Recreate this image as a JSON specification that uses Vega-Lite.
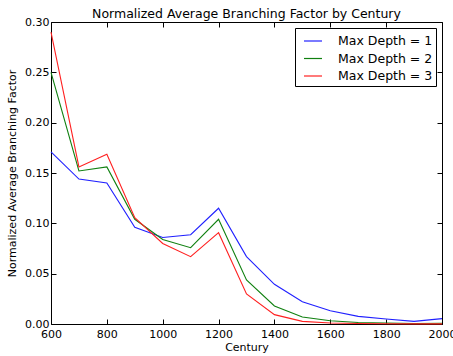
{
  "$schema": "https://vega.github.io/schema/vega-lite/v6.json",
  "width": 391,
  "height": 302,
  "autosize": "none",
  "padding": {"left": 51, "top": 22, "right": 11, "bottom": 32},
  "background": "white",
  "title": {
    "text": "Normalized Average Branching Factor by Century",
    "font": "DejaVu Sans",
    "fontSize": 12.5,
    "fontWeight": "normal",
    "color": "black",
    "anchor": "middle",
    "frame": "group",
    "offset": -4
  },
  "config": {
    "view": {"stroke": "black", "strokeWidth": 1},
    "axis": {
      "labelFont": "DejaVu Sans",
      "labelFontSize": 11,
      "labelColor": "black",
      "labelFlush": false,
      "titleFont": "DejaVu Sans",
      "titleFontSize": 11,
      "titleFontWeight": "normal",
      "titleColor": "black",
      "grid": false,
      "domain": false,
      "tickColor": "black",
      "tickSize": -5,
      "labelPadding": 9
    }
  },
  "data": {
    "values": [
      {"century": 600, "series": "Max Depth = 1", "value": 0.171},
      {"century": 700, "series": "Max Depth = 1", "value": 0.144},
      {"century": 800, "series": "Max Depth = 1", "value": 0.140},
      {"century": 900, "series": "Max Depth = 1", "value": 0.096},
      {"century": 1000, "series": "Max Depth = 1", "value": 0.086},
      {"century": 1100, "series": "Max Depth = 1", "value": 0.0887},
      {"century": 1200, "series": "Max Depth = 1", "value": 0.115},
      {"century": 1300, "series": "Max Depth = 1", "value": 0.067},
      {"century": 1400, "series": "Max Depth = 1", "value": 0.0394},
      {"century": 1500, "series": "Max Depth = 1", "value": 0.0222},
      {"century": 1600, "series": "Max Depth = 1", "value": 0.0132},
      {"century": 1700, "series": "Max Depth = 1", "value": 0.0076},
      {"century": 1800, "series": "Max Depth = 1", "value": 0.005},
      {"century": 1900, "series": "Max Depth = 1", "value": 0.0026},
      {"century": 2000, "series": "Max Depth = 1", "value": 0.0053},
      {"century": 600, "series": "Max Depth = 2", "value": 0.25},
      {"century": 700, "series": "Max Depth = 2", "value": 0.152},
      {"century": 800, "series": "Max Depth = 2", "value": 0.156},
      {"century": 900, "series": "Max Depth = 2", "value": 0.104},
      {"century": 1000, "series": "Max Depth = 2", "value": 0.084},
      {"century": 1100, "series": "Max Depth = 2", "value": 0.0758},
      {"century": 1200, "series": "Max Depth = 2", "value": 0.104},
      {"century": 1300, "series": "Max Depth = 2", "value": 0.0437},
      {"century": 1400, "series": "Max Depth = 2", "value": 0.0179},
      {"century": 1500, "series": "Max Depth = 2", "value": 0.007},
      {"century": 1600, "series": "Max Depth = 2", "value": 0.0033},
      {"century": 1700, "series": "Max Depth = 2", "value": 0.0015},
      {"century": 1800, "series": "Max Depth = 2", "value": 0.001},
      {"century": 1900, "series": "Max Depth = 2", "value": 0.0005},
      {"century": 2000, "series": "Max Depth = 2", "value": 0.0008},
      {"century": 600, "series": "Max Depth = 3", "value": 0.29},
      {"century": 700, "series": "Max Depth = 3", "value": 0.156},
      {"century": 800, "series": "Max Depth = 3", "value": 0.1686},
      {"century": 900, "series": "Max Depth = 3", "value": 0.1056},
      {"century": 1000, "series": "Max Depth = 3", "value": 0.080},
      {"century": 1100, "series": "Max Depth = 3", "value": 0.0669},
      {"century": 1200, "series": "Max Depth = 3", "value": 0.0907},
      {"century": 1300, "series": "Max Depth = 3", "value": 0.0298},
      {"century": 1400, "series": "Max Depth = 3", "value": 0.0093},
      {"century": 1500, "series": "Max Depth = 3", "value": 0.0026},
      {"century": 1600, "series": "Max Depth = 3", "value": 0.001},
      {"century": 1700, "series": "Max Depth = 3", "value": 0.0005},
      {"century": 1800, "series": "Max Depth = 3", "value": 0.0002},
      {"century": 1900, "series": "Max Depth = 3", "value": 0.0001},
      {"century": 2000, "series": "Max Depth = 3", "value": 0.0001}
    ]
  },
  "resolve": {"axis": {"x": "independent", "y": "independent"}},
  "layer": [
    {
      "mark": {"type": "line", "strokeWidth": 1.1},
      "encoding": {
        "x": {
          "field": "century",
          "type": "quantitative",
          "scale": {"domain": [600, 2000], "nice": false, "zero": false},
          "axis": {"title": "Century", "values": [600, 800, 1000, 1200, 1400, 1600, 1800, 2000], "format": "d", "titlePadding": 2}
        },
        "y": {
          "field": "value",
          "type": "quantitative",
          "scale": {"domain": [0, 0.3], "nice": false},
          "axis": {"title": "Normalized Average Branching Factor", "values": [0, 0.05, 0.1, 0.15, 0.2, 0.25, 0.3], "format": ".2f", "labelPadding": 7, "titlePadding": 7}
        },
        "color": {
          "field": "series",
          "type": "nominal",
          "scale": {"domain": ["Max Depth = 1", "Max Depth = 2", "Max Depth = 3"], "range": ["#2020ff", "#108010", "#ff2020"]},
          "legend": {
            "title": null,
            "orient": "none",
            "legendX": 244,
            "legendY": 6,
            "padding": 3,
            "symbolOffset": 5,
            "strokeColor": "black",
            "fillColor": "white",
            "symbolType": "stroke",
            "symbolSize": 324,
            "symbolStrokeWidth": 1.2,
            "labelFont": "DejaVu Sans",
            "labelFontSize": 12.5,
            "labelColor": "black",
            "labelOffset": 15,
            "rowPadding": 0.5,
            "labelLimit": 200
          }
        }
      }
    },
    {
      "mark": {"type": "line", "opacity": 0},
      "encoding": {
        "x": {
          "field": "century",
          "type": "quantitative",
          "scale": {"domain": [600, 2000], "nice": false, "zero": false},
          "axis": {"orient": "top", "title": null, "labels": false, "values": [600, 800, 1000, 1200, 1400, 1600, 1800, 2000]}
        },
        "y": {
          "field": "value",
          "type": "quantitative",
          "scale": {"domain": [0, 0.3], "nice": false},
          "axis": {"orient": "right", "title": null, "labels": false, "values": [0, 0.05, 0.1, 0.15, 0.2, 0.25, 0.3]}
        }
      }
    }
  ]
}
